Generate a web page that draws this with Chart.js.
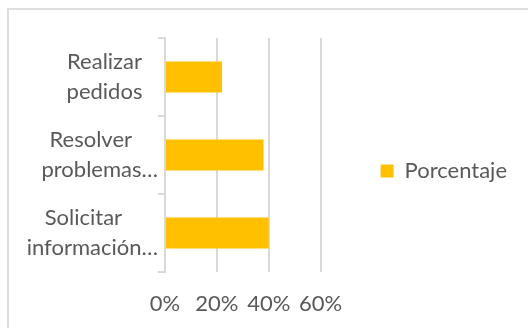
<!DOCTYPE html>
<html>
<head>
<meta charset="utf-8">
<script src="https://cdn.jsdelivr.net/npm/chart.js@4"></script>
<style>
    html, body { margin: 0; padding: 0; background: #ffffff; }
    #wrap { position: relative; width: 528px; height: 328px; overflow: hidden; }
    #frame { position: absolute; left: 7px; top: 8px; width: 700px; height: 500px; border: 2px solid #dedede; }
    #chart { position: absolute; left: 0; top: 0; }
</style>
</head>
<body>
<div id="wrap">
    <div id="frame"></div>
    <canvas id="chart" width="528" height="328"></canvas>
</div>
<script>
    // ─── data ───────────────────────────────────────────────
    var categories = [
        ['Realizar', 'pedidos'],
        ['Resolver', 'problemas…'],
        ['Solicitar', 'información…']
    ];
    var porcentaje = [0.22, 0.38, 0.40];
    var seriesName = 'Porcentaje';
    var axisTicks = [0, 0.2, 0.4, 0.6];

    var FONT = "Lato, 'Open Sans', sans-serif";
    var TEXT = '#595959';
    var GRID = '#d9d9d9';
    var BAR = '#FFC000';

    // Excel-style wrapped category labels (centred lines, truncated
    // lines pushed against the axis)
    var categoryLabels = {
        id: 'categoryLabels',
        afterDraw: function (chart) {
            var ctx = chart.ctx;
            var yScale = chart.scales.y;
            var right = chart.chartArea.left - 7;
            var centre = chart.chartArea.left - 60.5;
            var lineH = 30;

            ctx.save();
            ctx.font = '22px ' + FONT;
            ctx.fillStyle = TEXT;
            ctx.textBaseline = 'middle';
            ctx.textAlign = 'center';

            chart.data.labels.forEach(function (lines, i) {
                var yc = yScale.getPixelForTick(i);
                var widths = lines.map(function (l) { return ctx.measureText(l).width; });
                var maxW = Math.max.apply(null, widths);
                var cx = centre;
                var shift = 0;
                if (cx + maxW / 2 > right) {
                    cx = right - maxW / 2;
                    shift = -9;
                }
                lines.forEach(function (line, j) {
                    var y = yc + (j - (lines.length - 1) / 2) * lineH;
                    var x = widths[j] === maxW ? cx : cx + shift;
                    ctx.fillText(line, x, y);
                });
            });
            ctx.restore();
        }
    };

    new Chart(document.getElementById('chart').getContext('2d'), {
        type: 'bar',
        data: {
            labels: categories,
            datasets: [{
                label: seriesName,
                data: porcentaje,
                backgroundColor: BAR,
                borderWidth: 0,
                categoryPercentage: 1,
                barPercentage: 0.4
            }]
        },
        options: {
            indexAxis: 'y',
            responsive: false,
            animation: false,
            layout: { padding: { left: 158, top: 38, right: 11, bottom: 0 } },
            scales: {
                x: {
                    min: 0,
                    max: 0.6,
                    afterBuildTicks: function (scale) {
                        scale.ticks = axisTicks.map(function (v) { return { value: v }; });
                    },
                    afterFit: function (scale) { scale.height = 56; },
                    grid: { color: GRID, lineWidth: 2, drawTicks: false },
                    border: { display: false },
                    ticks: {
                        padding: 19,
                        color: TEXT,
                        font: { family: FONT, size: 22 },
                        maxRotation: 0,
                        callback: function (v) { return Math.round(v * 100) + '%'; }
                    }
                },
                y: {
                    grid: { color: GRID, lineWidth: 2, drawOnChartArea: false, drawTicks: true, tickLength: 7 },
                    border: { color: GRID, width: 2 },
                    ticks: { display: false }
                }
            },
            plugins: {
                tooltip: { enabled: false },
                legend: {
                    position: 'right',
                    fullSize: false,
                    maxWidth: 240,
                    // blank title only nudges the entry down to Excel's spot
                    title: { display: true, text: ' ', font: { size: 22 }, padding: { top: 0, bottom: 5.6 } },
                    labels: {
                        boxWidth: 13,
                        boxHeight: 13,
                        padding: 60,
                        color: TEXT,
                        font: { family: FONT, size: 22 }
                    }
                }
            }
        },
        plugins: [categoryLabels]
    });
</script>
</body>
</html>
